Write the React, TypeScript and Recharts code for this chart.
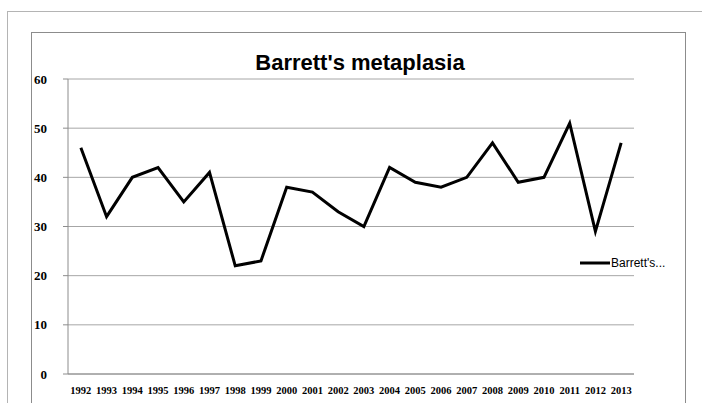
import React from 'react';
import { LineChart, Line, XAxis, YAxis, CartesianGrid } from 'recharts';

const years = [
  '1992', '1993', '1994', '1995', '1996', '1997', '1998', '1999', '2000', '2001', '2002',
  '2003', '2004', '2005', '2006', '2007', '2008', '2009', '2010', '2011', '2012', '2013',
];
const cases = [46, 32, 40, 42, 35, 41, 22, 23, 38, 37, 33, 30, 42, 39, 38, 40, 47, 39, 40, 51, 29, 47];
const yTicks = [0, 10, 20, 30, 40, 50, 60];
const seriesName = "Barrett's metaplasia";
const legendLabel = "Barrett's...";

const data = years.map((year, i) => ({ year, value: cases[i] }));

const W = 702;
const H = 403;
const plotLeft = 68;
const plotRight = 634;
const bandHalf = (plotRight - plotLeft) / years.length / 2;
const boundaryTicks = years.map((_, i) => i).concat([years.length]);

export default function App() {
  return (
    <div style={{ position: 'absolute', left: 0, top: 0, width: W, height: H, background: '#fff', overflow: 'hidden' }}>
      <div style={{ position: 'absolute', left: 7, top: 11, width: 720, height: 420, border: '1px solid #b4b4b4' }} />
      <div style={{ position: 'absolute', left: 31, top: 32, width: 653, height: 420, border: '1px solid #8c8c8c' }} />
      <LineChart
        width={W}
        height={H}
        data={data}
        margin={{ top: 79, right: W - plotRight, left: plotLeft - 40, bottom: 9 }}
        style={{ position: 'absolute', left: 0, top: 0 }}
      >
        <text
          x={360}
          y={70}
          textAnchor="middle"
          fontFamily="Liberation Sans, Arial, sans-serif"
          fontWeight="bold"
          fontSize={22}
          fill="#000"
        >
          {seriesName}
        </text>
        <CartesianGrid vertical={false} stroke="#a6a6a6" strokeWidth={1} />
        <XAxis
          xAxisId="ticks"
          type="number"
          domain={[0, years.length]}
          ticks={boundaryTicks}
          height={0}
          axisLine={false}
          tickLine={{ stroke: '#8c8c8c' }}
          tickSize={5}
          tickFormatter={() => ''}
        />
        <XAxis
          dataKey="year"
          scale="point"
          padding={{ left: bandHalf, right: bandHalf }}
          height={20}
          axisLine={{ stroke: '#8c8c8c' }}
          tickLine={false}
          interval={0}
          tickMargin={7}
          tick={{ fontFamily: 'Liberation Serif, Times New Roman, serif', fontWeight: 'bold', fontSize: 10.5, fill: '#000' }}
        />
        <YAxis
          width={40}
          domain={[0, 60]}
          ticks={yTicks}
          axisLine={{ stroke: '#8c8c8c' }}
          tickLine={{ stroke: '#8c8c8c' }}
          tickSize={5}
          tickMargin={16}
          tick={{ fontFamily: 'Liberation Serif, Times New Roman, serif', fontWeight: 'bold', fontSize: 13, fill: '#000' }}
        />
        <Line
          type="linear"
          dataKey="value"
          name={seriesName}
          stroke="#000"
          strokeWidth={3}
          dot={false}
          isAnimationActive={false}
        />
      </LineChart>
      <svg width={110} height={20} style={{ position: 'absolute', left: 578, top: 253 }}>
        <line x1={2} y1={10} x2={32} y2={10} stroke="#000" strokeWidth={3} />
        <text x={33} y={14} fontFamily="Liberation Sans, Arial, sans-serif" fontSize={12} fill="#000">
          {legendLabel}
        </text>
      </svg>
    </div>
  );
}
